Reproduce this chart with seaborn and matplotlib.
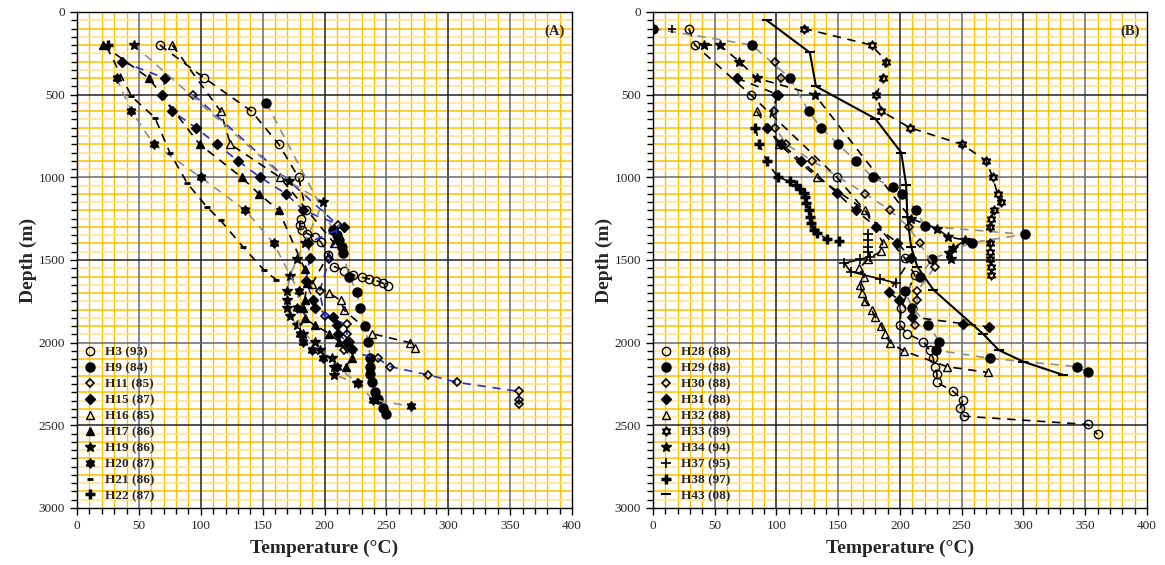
import matplotlib
matplotlib.use("Agg")
import matplotlib.pyplot as plt
import matplotlib.path as mpath
from matplotlib.lines import Line2D
import seaborn as sns

sns.set_style("white")
plt.rcParams['font.family'] = ['Liberation Serif', 'DejaVu Serif']

# ---------------- Panel A data (Temperature °C, Depth m) ----------------
h3_T = [67, 103, 141, 163, 179, 185, 181, 180, 182, 186, 192, 197, 203, 208, 216, 223, 230, 236, 242, 247, 251]
h3_D = [200, 400, 600, 800, 1000, 1200, 1250, 1290, 1320, 1340, 1360, 1390, 1470, 1540, 1565, 1590, 1605, 1615, 1625, 1640, 1655]
h9_T = [153, 207, 210, 212, 214, 215, 220, 226, 229, 233, 235, 237, 237, 237, 238, 241, 243, 247, 250]
h9_D = [550, 1320, 1350, 1380, 1420, 1460, 1600, 1692, 1792, 1900, 1995, 2090, 2145, 2190, 2240, 2300, 2340, 2395, 2430]
h11_T = [94, 211, 204, 196, 200, 218, 218, 221, 216, 243, 253, 284, 307, 357, 357, 357]
h11_D = [500, 1290, 1495, 1690, 1840, 1890, 1945, 1995, 2045, 2095, 2145, 2195, 2240, 2295, 2345, 2370]
h15_T = [36, 71, 69, 77, 96, 113, 130, 148, 169, 183, 216, 187, 188, 185, 191, 192, 207, 210, 211, 218, 222]
h15_D = [300, 400, 500, 600, 700, 800, 900, 1000, 1100, 1200, 1300, 1395, 1490, 1630, 1745, 1790, 1845, 1895, 1945, 1995, 2040]
h16_T = [77, 116, 124, 164, 208, 190, 204, 213, 216, 238, 269, 273]
h16_D = [200, 600, 800, 1000, 1400, 1645, 1700, 1745, 1805, 1945, 2000, 2035]
h17_T = [21, 58, 99, 133, 147, 163, 184, 186, 184, 183, 184, 192, 204, 212, 222, 217]
h17_D = [200, 400, 800, 1000, 1100, 1200, 1555, 1640, 1740, 1790, 1850, 1895, 1945, 1995, 2095, 2145]
h19_T = [46, 171, 199, 184, 178, 172, 170, 170, 170, 172, 178, 183, 192, 196, 206, 208, 208, 226]
h19_D = [200, 1025, 1150, 1395, 1495, 1595, 1690, 1740, 1790, 1840, 1895, 1945, 1995, 2045, 2095, 2145, 2195, 2245]
h20_T = [32, 44, 62, 100, 136, 159, 179, 178, 180, 183, 190, 199, 210, 227, 239, 270]
h20_D = [400, 600, 800, 1000, 1200, 1400, 1690, 1790, 1945, 1995, 2045, 2095, 2145, 2245, 2345, 2385]
h21_T = [24, 44, 63, 75, 89, 105, 116, 134, 151, 161]
h21_D = [210, 510, 640, 850, 1035, 1180, 1260, 1420, 1560, 1620]
h22_T = [25]
h22_D = [200]

# ---------------- Panel B data ----------------
h28_T = [29, 34, 79, 149, 204, 212, 201, 200, 206, 219, 224, 227, 228, 230, 230, 243, 251, 249, 252, 352, 360]
h28_D = [100, 200, 500, 1000, 1490, 1590, 1790, 1895, 1945, 1995, 2045, 2095, 2145, 2190, 2240, 2295, 2345, 2395, 2445, 2495, 2555]
h29_T = [0, 80, 111, 126, 136, 150, 164, 178, 194, 202, 213, 220, 301, 258, 226, 216, 204, 210, 223, 232, 229, 273, 343, 352]
h29_D = [100, 200, 400, 600, 700, 800, 900, 1000, 1060, 1100, 1200, 1295, 1345, 1395, 1495, 1600, 1690, 1790, 1895, 1995, 2045, 2095, 2145, 2180]
h30_T = [99, 104, 100, 98, 99, 108, 129, 172, 192, 207, 216, 228, 214, 214, 212]
h30_D = [300, 400, 500, 600, 700, 800, 900, 1100, 1200, 1300, 1400, 1545, 1690, 1740, 1895]
h31_T = [68, 101, 92, 104, 120, 149, 164, 181, 198, 209, 191, 199, 210, 251, 272]
h31_D = [400, 500, 700, 800, 900, 1095, 1200, 1300, 1395, 1490, 1695, 1740, 1845, 1885, 1905]
h32_T = [84, 102, 133, 172, 186, 185, 174, 167, 171, 168, 169, 172, 177, 180, 185, 188, 192, 203, 238, 271]
h32_D = [600, 800, 1000, 1200, 1395, 1445, 1495, 1550, 1600, 1650, 1700, 1750, 1800, 1845, 1900, 1950, 2000, 2050, 2145, 2180]
h33_T = [122, 177, 189, 186, 181, 185, 208, 250, 270, 275, 279, 282, 276, 274, 273, 273, 273, 273, 274, 274]
h33_D = [100, 200, 300, 400, 500, 600, 700, 800, 900, 1000, 1100, 1150, 1200, 1250, 1300, 1400, 1450, 1495, 1540, 1590]
h34_T = [41, 54, 70, 84, 131, 209, 230, 239, 253, 243, 240, 241]
h34_D = [200, 200, 300, 400, 500, 1250, 1310, 1360, 1380, 1430, 1460, 1495]
h37_T = [15, 174, 174, 174, 174, 176, 168, 155, 160, 184, 197]
h37_D = [100, 1340, 1380, 1420, 1450, 1480, 1495, 1520, 1570, 1615, 1640]
h38_T = [83, 86, 92, 101, 111, 116, 119, 122, 123, 124, 126, 127, 128, 130, 133, 141, 151]
h38_D = [700, 800, 900, 1000, 1025, 1047, 1073, 1097, 1117, 1157, 1198, 1238, 1279, 1319, 1339, 1372, 1386]
h43_T = [92, 127, 132, 180, 201, 205, 206, 209, 214, 227, 267, 280, 300, 332]
h43_D = [50, 245, 450, 645, 850, 1045, 1240, 1420, 1540, 1680, 1945, 2045, 2115, 2195]

x_ticks = [0, 50, 100, 150, 200, 250, 300, 350, 400]
y_ticks = [0, 500, 1000, 1500, 2000, 2500, 3000]

# ---------------- styles ----------------
hexv = [(0, 1), (-0.866, -0.5), (0.866, -0.5), (0, 1),
        (0, -1), (0.866, 0.5), (-0.866, 0.5), (0, -1)]
hexc = [mpath.Path.MOVETO, mpath.Path.LINETO, mpath.Path.LINETO, mpath.Path.CLOSEPOLY] * 2
HEX = mpath.Path(hexv, hexc)

DASH = (0, (5, 4))
BLK, GRY, BLU = 'black', '#8c8c8c', '#1f2fd6'

def mk(marker, ms, filled, mew=1.0):
    return dict(marker=marker, markersize=ms,
                markerfacecolor='black' if filled else 'none',
                markeredgecolor='black', markeredgewidth=mew)

seriesA = [
    ("H3 (93)", h3_T, h3_D, BLK, DASH, mk('o', 6, False)),
    ("H9 (84)", h9_T, h9_D, GRY, DASH, mk('o', 6.5, True)),
    ("H11 (85)", h11_T, h11_D, BLU, DASH, mk('D', 4.3, False, 1.2)),
    ("H15 (87)", h15_T, h15_D, BLU, DASH, mk('D', 4.8, True)),
    ("H16 (85)", h16_T, h16_D, BLK, DASH, mk('^', 6, False)),
    ("H17 (86)", h17_T, h17_D, BLK, DASH, mk('^', 6, True)),
    ("H19 (86)", h19_T, h19_D, GRY, DASH, mk('*', 7.5, True)),
    ("H20 (87)", h20_T, h20_D, GRY, DASH, mk(HEX, 6.5, True, 1.2)),
    ("H21 (86)", h21_T, h21_D, BLK, DASH, mk('_', 5, True, 2.0)),
    ("H22 (87)", h22_T, h22_D, BLK, DASH, mk('+', 6.5, True, 2.5)),
]
seriesB = [
    ("H28 (88)", h28_T, h28_D, BLK, DASH, mk('o', 6, False)),
    ("H29 (88)", h29_T, h29_D, GRY, DASH, mk('o', 6.5, True)),
    ("H30 (88)", h30_T, h30_D, GRY, DASH, mk('D', 4.3, False, 1.2)),
    ("H31 (88)", h31_T, h31_D, BLK, DASH, mk('D', 4.8, True)),
    ("H32 (88)", h32_T, h32_D, BLK, DASH, mk('^', 6, False)),
    ("H33 (89)", h33_T, h33_D, BLK, DASH, mk(HEX, 6.5, False, 1.1)),
    ("H34 (94)", h34_T, h34_D, BLK, DASH, mk('*', 7.5, True)),
    ("H37 (95)", h37_T, h37_D, BLK, '-', mk('+', 6.5, True, 1.2)),
    ("H38 (97)", h38_T, h38_D, BLK, DASH, mk('+', 6.5, True, 2.5)),
    ("H43 (08)", h43_T, h43_D, BLK, '-', mk('_', 7, True, 1.5)),
]

fig = plt.figure(figsize=(11.65, 5.65), dpi=100)
axA = fig.add_axes([0.0661, 0.1009, 0.4249, 0.8779])
axB = fig.add_axes([0.5605, 0.1009, 0.4240, 0.8779])

GOLD, PALE = '#FFC000', '#FFE38A'

def style_axes(ax, label):
    ax.set_xlim(0, 400)
    ax.set_ylim(3000, 0)
    for t in range(10, 400, 10):
        if t % 50:
            ax.axvline(t, color=GOLD, lw=1.0, zorder=0.5)
    for d in range(50, 3000, 50):
        if d % 500:
            ax.axhline(d, color=GOLD if d % 100 == 0 else PALE, lw=1.1, zorder=0.5)
    for t in range(50, 400, 50):
        ax.axvline(t, color='#222222' if t % 100 == 0 else '#6a6a6a', lw=1.1, zorder=0.8)
    for d in range(500, 3000, 500):
        ax.axhline(d, color='#222222' if d % 1000 else '#6a6a6a', lw=1.1, zorder=0.8)
    ax.set_xticks(x_ticks)
    ax.set_yticks(y_ticks)
    ax.set_xticks(range(0, 401, 10), minor=True)
    ax.set_yticks(range(0, 3001, 50), minor=True)
    ax.tick_params(which='both', direction='out', left=True, bottom=True,
                   top=False, right=False, labelsize=9.5, width=1.0, color='black')
    ax.tick_params(which='major', length=5)
    ax.tick_params(which='minor', length=4)
    for s in ax.spines.values():
        s.set_color('black')
        s.set_linewidth(1.0)
    ax.set_xlabel("Temperature (°C)", fontsize=14, fontweight='bold', labelpad=6)
    ax.set_ylabel("Depth (m)", fontsize=14, fontweight='bold', labelpad=1)
    ax.text(0.985, 0.975, label, transform=ax.transAxes, ha='right', va='top',
            fontsize=10.5, fontweight='bold')

def draw(ax, series):
    handles = []
    for name, T, D, col, ls, m in series:
        if name.startswith("H37"):
            sns.scatterplot(x=T[:1], y=D[:1], ax=ax, marker='+', s=40,
                            color='black', linewidth=1.2, zorder=3, legend=False)
            T, D = T[1:], D[1:]
        sns.lineplot(x=T, y=D, ax=ax, sort=False, estimator=None, color=col,
                     linestyle=ls, linewidth=1.5 if name.startswith("H43") else 1.2,
                     legend=False, zorder=3, **m)
        handles.append(Line2D([], [], linestyle='none', label=name, **m))
    ax.legend(handles=handles, loc='lower left', frameon=False,
              prop={'family': 'Liberation Serif', 'weight': 'bold', 'size': 9.5},
              handlelength=1.0, handletextpad=0.7, labelspacing=0.28,
              borderaxespad=0.25, borderpad=0.2)

style_axes(axA, "(A)")
style_axes(axB, "(B)")
draw(axA, seriesA)
draw(axB, seriesB)

fig.savefig("out.png", dpi=100)
